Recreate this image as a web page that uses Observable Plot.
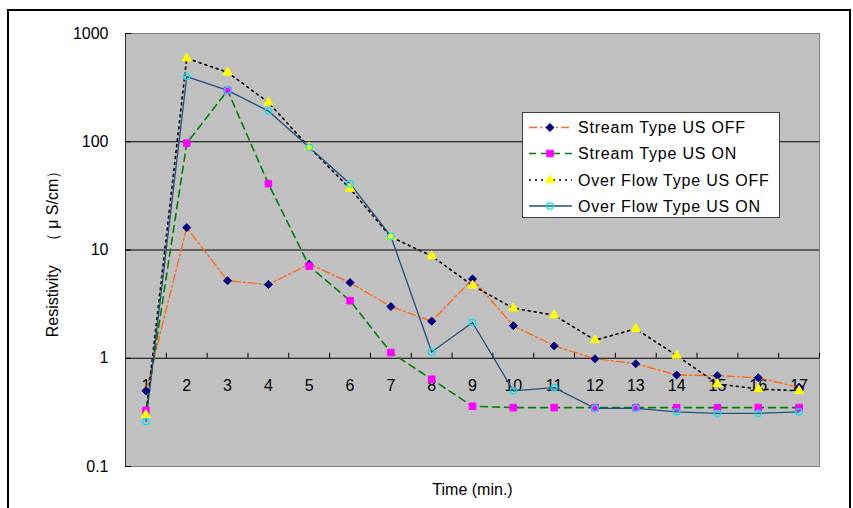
<!DOCTYPE html>
<html><head><meta charset="utf-8">
<script src="https://cdn.jsdelivr.net/npm/d3@7"></script>
<script src="https://cdn.jsdelivr.net/npm/@observablehq/plot@0.6"></script>
<style>
body{margin:0;background:#fff;overflow:hidden}
#wrap{position:relative;width:853px;height:508px;overflow:hidden;font-family:'Liberation Sans',Arial,sans-serif}
#border{position:absolute;left:7px;top:9px;width:844px;height:600px;border:2px solid #000;box-sizing:border-box}
#chart{position:absolute;left:0;top:0}
#legend{position:absolute;left:522px;top:112px}
</style></head><body><div id="wrap"><div id="border"></div><div id="chart"></div><div id="legend"></div></div>
<script>
// ---- data ----
const times = [1,2,3,4,5,6,7,8,9,10,11,12,13,14,15,16,17];
const seriesNames = ["Stream Type US OFF","Stream Type US ON","Over Flow Type US OFF","Over Flow Type US ON"];
const streamOff = [0.50,16.1,5.2,4.8,7.4,5.0,3.0,2.2,5.4,2.0,1.3,0.99,0.89,0.70,0.69,0.66,0.54];
const streamOn  = [0.33,97,298,41,7.1,3.4,1.13,0.64,0.36,0.35,0.35,0.35,0.35,0.35,0.35,0.35,0.35];
const overOff   = [0.30,590,438,231,89,37,13.2,8.8,4.7,2.9,2.5,1.47,1.87,1.06,0.58,0.52,0.50];
const overOn    = [0.26,400,298,192,89,41,13.4,1.14,2.14,0.50,0.535,0.345,0.345,0.32,0.31,0.31,0.32];
const yTicks = [0.1,1,10,100,1000];
const yTickLabels = ["0.1","1","10","100","1000"];
const gridVals = [1,10,100];
const xLabel = "Time (min.)";
const yLabel = "Resistivity\u3000（ μ S/cm）";

// ---- styles ----
const styles = [
  {line:"#ff6a1a", dash:"8,3,2,3", width:1.4, symbol:"diamond2", r:3.6, fill:"#000080", stroke:"#000080", sw:1},
  {line:"#008000", dash:"7,5", width:1.6, symbol:"square", r:3.7, fill:"#ff00ff", stroke:"#ff00ff", sw:1},
  {line:"#000000", dash:"2,4", width:1.6, symbol:"triangle", r:3.4, fill:"#ffff00", stroke:"#ffff00", sw:1},
  {line:"#244f7c", dash:null, width:1.3, symbol:"circle", r:3.2, fill:"none", stroke:"#00e5ee", sw:1.3}
];
const seriesVals = [streamOff, streamOn, overOff, overOn];
const tables = seriesVals.map((vals, s) => times.map((t, i) => ({t, v: vals[i], s: seriesNames[s]})));

const marks = [
  Plot.frame({fill:"#c0c0c0", stroke:"#808080"}),
  Plot.ruleY(gridVals, {stroke:"#000", strokeWidth:1}),
  Plot.ruleX([times[0]-0.5], {stroke:"#333"}),
  Plot.ruleY(yTicks, {x1:() => times[0]-0.5, x2:() => times[0]-0.5, insetRight:-6, stroke:"#000"}),
  Plot.ruleX(times, {x: d => d + 0.5, y1:() => 1, y2:() => 1, insetTop:-5, stroke:"#000"}),
  Plot.text(yTicks, {y: d => d, x: () => times[0]-0.5, dx: -17, textAnchor:"end", text: d => yTickLabels[yTicks.indexOf(d)], fill:"#000", fontSize:16}),
  Plot.text(times, {x: d => d, y: () => 1, dy: 28, text: d => String(d), fill:"#000", fontSize:16})
];
tables.forEach((tb, s) => {
  const st = styles[s];
  marks.push(Plot.line(tb, {x:"t", y:"v", stroke:st.line, strokeWidth:st.width, strokeDasharray:st.dash || undefined}));
});
tables.forEach((tb, s) => {
  const st = styles[s];
  marks.push(Plot.dot(tb, {x:"t", y:"v", symbol:st.symbol, r:st.r, fill:st.fill, stroke:st.stroke, strokeWidth:st.sw}));
});
marks.push(Plot.text([yLabel], {frameAnchor:"left", textAnchor:"middle", rotate:-90, dx:-73, fontSize:16, fill:"#000", style:"letter-spacing:1.2px"}));
marks.push(Plot.text([xLabel], {frameAnchor:"bottom", dy:28, fontSize:16, fill:"#000", style:"letter-spacing:0.4px"}));

const chart = Plot.plot({
  width:853, height:508,
  marginLeft:125, marginRight:34, marginTop:33, marginBottom:42,
  x:{type:"linear", domain:[times[0]-0.5, times[times.length-1]+0.5], axis:null},
  y:{type:"log", domain:[yTicks[0], yTicks[yTicks.length-1]], axis:null},
  style:{fontFamily:"'Liberation Sans',Arial,sans-serif", fontSize:"16px", background:"transparent", color:"#000"},
  marks
});
document.getElementById("chart").appendChild(chart);

// ---- legend ----
const W = 258, H = 106;
const svg = d3.select("#legend").append("svg").attr("width", W).attr("height", H)
  .style("font-family","'Liberation Sans',Arial,sans-serif").style("font-size","16px");
svg.append("rect").attr("x",0.5).attr("y",0.5).attr("width",W-1).attr("height",H-1).attr("fill","#fff").attr("stroke","#404040");
const rowY = [15.5, 41.5, 68, 94];
seriesNames.forEach((name, s) => {
  const st = styles[s];
  const g = svg.append("g").attr("transform", `translate(0,${rowY[s]})`);
  g.append("line").attr("x1",7).attr("x2",50).attr("y1",0).attr("y2",0)
    .attr("stroke",st.line).attr("stroke-width",st.width).attr("stroke-dasharray",st.dash);
  const symMap = {diamond2:d3.symbolDiamond2, square:d3.symbolSquare, triangle:d3.symbolTriangle, circle:d3.symbolCircle};
  g.append("path").attr("transform","translate(28,0)")
    .attr("d", d3.symbol(symMap[st.symbol], Math.PI*st.r*st.r)())
    .attr("fill", st.fill).attr("stroke", st.stroke).attr("stroke-width", st.sw);
  g.append("text").attr("x",56).attr("y",0).attr("dy","0.36em").attr("fill","#000")
    .style("letter-spacing","0.8px").text(name);
});
</script>
</body></html>
